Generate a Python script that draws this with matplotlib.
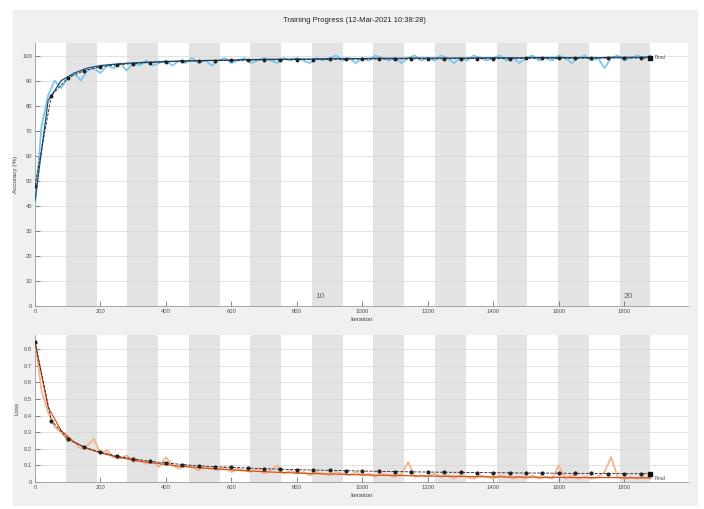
import matplotlib
matplotlib.use('Agg')
import matplotlib.pyplot as plt
from matplotlib.patches import Rectangle

plt.rcParams['font.family'] = ['Liberation Sans', 'DejaVu Sans']

# training iterations (raw values every 20 iterations)
iter_raw = list(range(0, 1881, 20))
acc_raw = [40, 72, 84, 90, 87, 91, 93, 90, 94, 95,
           93, 96, 95, 97, 94, 97, 96, 98, 96, 97,
           98, 96, 98, 97, 99, 97, 98, 96, 98, 99,
           97, 98, 99, 97, 98, 99, 98, 97, 99, 98,
           99, 98, 97, 99, 98, 99, 100, 98, 99, 97,
           99, 98, 100, 99, 98, 99, 97, 99, 100, 98,
           99, 98, 100, 99, 97, 99, 98, 100, 99, 98,
           99, 100, 98, 99, 97, 99, 100, 98, 99, 98,
           100, 99, 97, 99, 100, 98, 99, 95, 99, 100,
           98, 99, 100, 99, 100]
loss_raw = [0.85, 0.55, 0.42, 0.33, 0.30, 0.25, 0.24, 0.20, 0.22, 0.26,
            0.17, 0.19, 0.15, 0.14, 0.16, 0.12, 0.13, 0.11, 0.12, 0.09,
            0.15, 0.10, 0.08, 0.10, 0.09, 0.07, 0.09, 0.08, 0.07, 0.09,
            0.06, 0.08, 0.07, 0.06, 0.08, 0.05, 0.07, 0.10, 0.05, 0.07,
            0.05, 0.06, 0.04, 0.06, 0.05, 0.04, 0.06, 0.05, 0.04, 0.06,
            0.04, 0.05, 0.03, 0.05, 0.04, 0.03, 0.05, 0.12, 0.03, 0.04,
            0.03, 0.05, 0.03, 0.04, 0.02, 0.04, 0.03, 0.02, 0.04, 0.03,
            0.02, 0.04, 0.03, 0.02, 0.03, 0.02, 0.04, 0.02, 0.03, 0.02,
            0.10, 0.02, 0.04, 0.02, 0.03, 0.02, 0.03, 0.06, 0.15, 0.03,
            0.02, 0.03, 0.02, 0.03, 0.02]

# smoothed training curves (every 40 iterations)
iter_smooth = list(range(0, 1881, 40))
acc_smooth = [42, 82, 90, 93, 95, 96, 96.5, 96.9, 97.2, 97.4,
              97.6, 97.8, 97.9, 98.0, 98.1, 98.2, 98.3, 98.4, 98.5, 98.5,
              98.6, 98.6, 98.7, 98.8, 98.8, 98.8, 98.9, 98.9, 98.9, 99.0,
              99.0, 99.0, 99.0, 99.0, 99.1, 99.1, 99.1, 99.1, 99.2, 99.2,
              99.2, 99.2, 99.2, 99.1, 99.3, 99.3, 99.3, 99.4]
loss_smooth = [0.84, 0.45, 0.31, 0.24, 0.20, 0.175, 0.155, 0.14, 0.125, 0.115,
               0.105, 0.095, 0.09, 0.083, 0.078, 0.073, 0.068, 0.064, 0.06, 0.057,
               0.054, 0.051, 0.049, 0.047, 0.045, 0.043, 0.041, 0.04, 0.039, 0.037,
               0.036, 0.035, 0.034, 0.033, 0.032, 0.031, 0.03, 0.03, 0.029, 0.028,
               0.028, 0.027, 0.027, 0.026, 0.027, 0.025, 0.025, 0.025]

# validation (every 50 iterations + final)
iter_val = list(range(0, 1851, 50)) + [1880]
acc_val = [48, 84, 91, 94, 95.5, 96.3, 96.8, 97.2, 97.5, 97.7,
           97.9, 98.0, 98.1, 98.2, 98.3, 98.3, 98.4, 98.4, 98.5, 98.5,
           98.6, 98.6, 98.6, 98.7, 98.7, 98.7, 98.8, 98.8, 98.8, 98.8,
           98.9, 98.9, 98.9, 98.9, 99.0, 99.0, 99.0, 99.0, 99.1]
loss_val = [0.845, 0.37, 0.26, 0.21, 0.18, 0.155, 0.14, 0.125, 0.115, 0.105,
            0.098, 0.092, 0.088, 0.084, 0.08, 0.077, 0.074, 0.072, 0.07, 0.068,
            0.066, 0.064, 0.063, 0.061, 0.06, 0.059, 0.058, 0.057, 0.056, 0.055,
            0.054, 0.054, 0.053, 0.052, 0.052, 0.051, 0.05, 0.05, 0.05]

iters_per_epoch = 94
n_epochs = 20
epoch_labels = [10, 20]

fig = plt.figure(figsize=(7.04, 5.09), dpi=100)
fig.patches.append(Rectangle((13 / 704, 4 / 509), 684 / 704, 495 / 509,
                             transform=fig.transFigure, color='#f0f0f0', zorder=-10))

fig.text(354 / 704, 1 - 20 / 509, 'Training Progress (12-Mar-2021 10:38:28)',
         ha='center', va='center', fontsize=5.5, color='#222222')

ax1 = fig.add_axes([35 / 704, 1 - 306 / 509, 653 / 704, 263 / 509])
ax2 = fig.add_axes([35 / 704, 1 - 482 / 509, 653 / 704, 147 / 509])


def style(ax, ylim, yticks, ylabels, ylabel):
    ax.set_facecolor('white')
    for k in range(2, n_epochs + 1, 2):
        ax.axvspan((k - 1) * iters_per_epoch, k * iters_per_epoch,
                   color='#e3e3e3', lw=0, zorder=0)
    ax.set_xlim(0, 1995)
    ax.set_ylim(*ylim)
    ax.set_xticks(range(0, 1801, 200))
    ax.set_yticks(yticks)
    ax.set_yticklabels(ylabels)
    ax.tick_params(direction='in', length=3.5, width=0.5, labelsize=4.2,
                   colors='#555555', pad=2)
    ax.grid(axis='y', color='#d8d8d8', lw=0.5, zorder=1)
    ax.set_axisbelow(True)
    for s in ['top', 'right']:
        ax.spines[s].set_visible(False)
    for s in ['left', 'bottom']:
        ax.spines[s].set_color('#999999')
        ax.spines[s].set_linewidth(0.6)
    ax.set_xlabel('Iteration', fontsize=4.5, color='#444444', labelpad=2)
    ax.set_ylabel(ylabel, fontsize=4.5, color='#444444', labelpad=3)


style(ax1, (0, 105), range(0, 101, 10), [str(v) for v in range(0, 101, 10)],
      'Accuracy (%)')
style(ax2, (0, 0.885), [i / 10 for i in range(9)],
      ['0'] + ['%.1f' % (i / 10) for i in range(1, 9)], 'Loss')

# accuracy
ax1.plot(iter_raw, acc_raw, color='#7cc8ef', lw=1.3, zorder=3)
ax1.plot(iter_smooth, acc_smooth, color='#1a4f7a', lw=0.9, zorder=4)
ax1.plot(iter_val, acc_val, color='#222222', lw=0.6, ls='--', marker='o',
         ms=1.8, zorder=5)
ax1.plot(iter_val[-1], acc_val[-1], marker='s', color='#111111', ms=3.5, zorder=6)
ax1.text(iter_val[-1] + 12, acc_val[-1], 'Final', fontsize=3.5,
         va='center', color='#444444')
for e in epoch_labels:
    ax1.text((e - 1) * iters_per_epoch + 12, 2.5, str(e), fontsize=6,
             color='#666666', va='bottom')

# loss
ax2.plot(iter_raw, loss_raw, color='#f5b38e', lw=1.3, zorder=3)
ax2.plot(iter_smooth, loss_smooth, color='#d95319', lw=0.9, zorder=4)
ax2.plot(iter_val, loss_val, color='#222222', lw=0.6, ls='--', marker='o',
         ms=2.0, zorder=5)
ax2.plot(iter_val[-1], loss_val[-1], marker='s', color='#111111', ms=3.5, zorder=6)
ax2.text(iter_val[-1] + 12, loss_val[-1] - 0.03, 'Final', fontsize=3.5,
         va='center', color='#444444')

plt.savefig('out.png', dpi=100)
